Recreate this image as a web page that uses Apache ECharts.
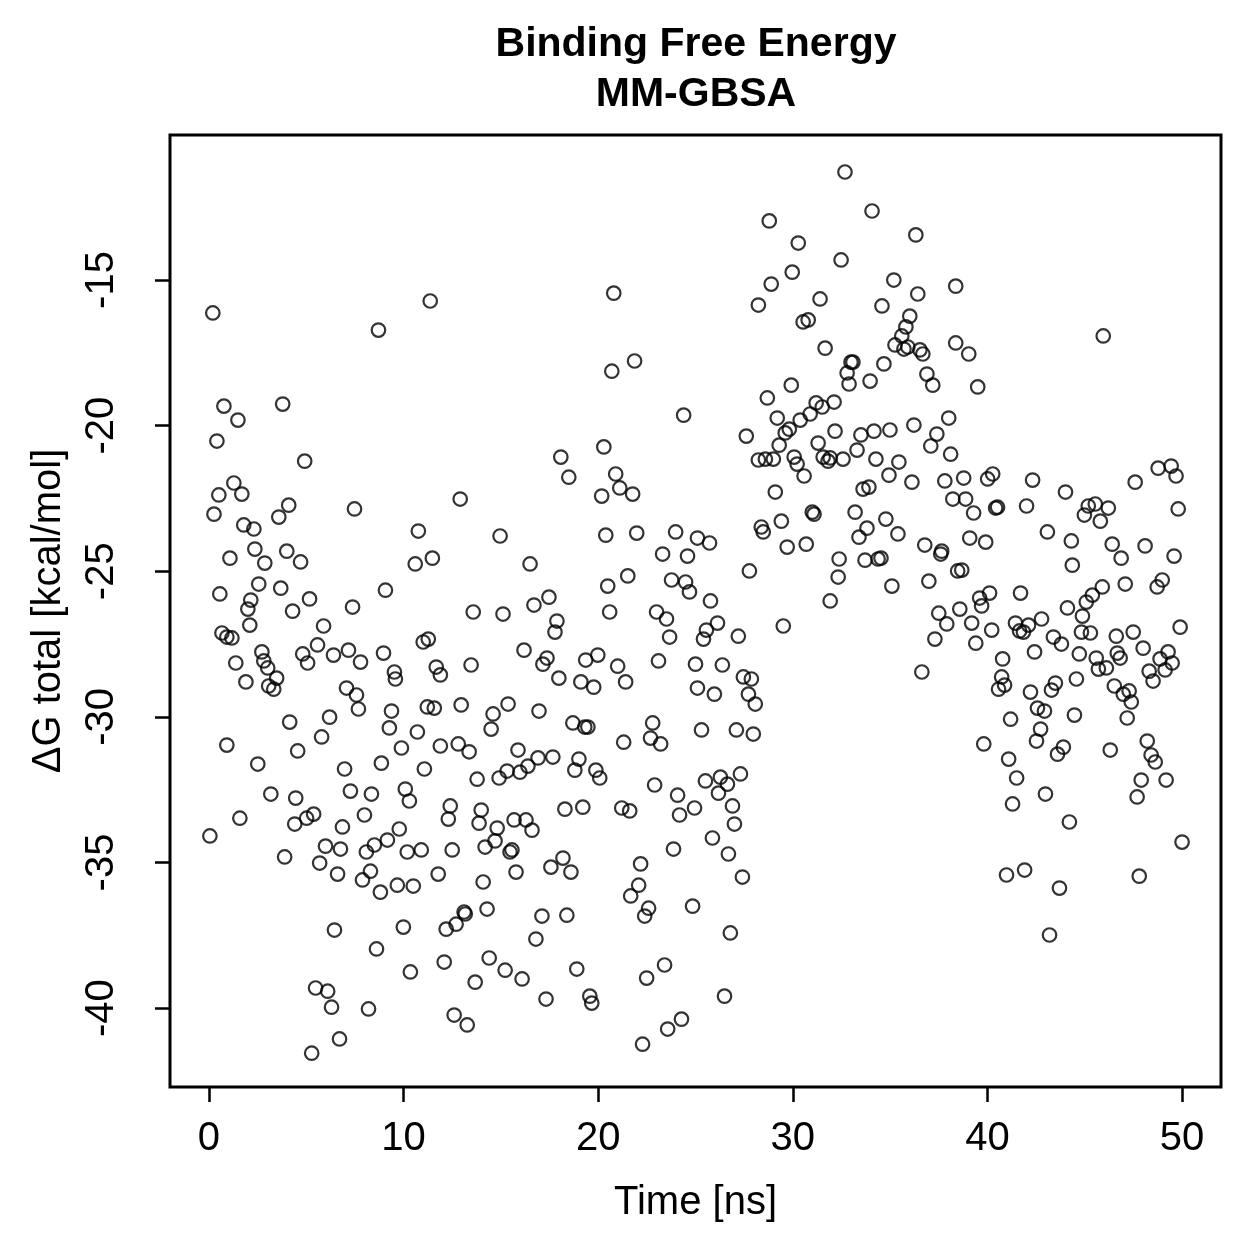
<!DOCTYPE html>
<html><head><meta charset="utf-8">
<script src="https://cdn.jsdelivr.net/npm/echarts@6/dist/echarts.min.js"></script>
<style>html,body{margin:0;padding:0;background:#fff}#c{width:1259px;height:1259px}</style>
</head><body><div id="c"></div>
<script>
const titleLines = ['Binding Free Energy', 'MM-GBSA'];
const xName = 'Time [ns]';
const yName = 'ΔG total [kcal/mol]';
const xTicks = [0, 10, 20, 30, 40, 50];
const yTicks = [-40, -35, -30, -25, -20, -15];

// [time (ns), ΔG total (kcal/mol)]
const ptsA = [[0.2,-16.13],[11.37,-15.72],[8.71,-16.72],[0.77,-19.33],[1.49,-19.81],[0.41,-20.53],[3.79,-19.26],[4.92,-21.22],
[1.28,-21.97],[1.69,-22.35],[0.51,-22.38],[0.26,-23.04],[4.10,-22.73],[3.59,-23.14],[7.48,-22.86],[1.79,-23.41],[2.31,-23.55],[10.76,-23.62],[2.36,-24.24],[2.87,-24.72],[1.08,-24.55],[4.0,-24.31],[4.71,-24.68],[10.60,-24.75],[11.48,-24.55],[2.56,-25.44],[3.69,-25.58],[0.56,-25.78],[9.07,-25.65],[2.15,-25.99],[2.0,-26.30],[5.17,-25.95],[4.30,-26.37],[7.38,-26.23],[2.10,-26.85],[5.89,-26.88],[0.67,-27.12],[0.92,-27.26],[1.18,-27.29],[2.72,-27.77],[2.82,-28.08],[3.02,-28.32],[1.38,-28.15],[4.82,-27.84],[5.07,-28.15],[5.58,-27.53],[6.40,-27.88],[7.17,-27.71],[7.79,-28.12],[8.97,-27.81],[9.53,-28.46],[9.58,-28.70],[11.01,-27.43],[11.27,-27.33],[11.68,-28.29],[11.89,-28.56],[1.90,-28.80],[3.48,-28.67],[3.07,-28.94],[3.33,-29.05],[7.07,-29.01],[7.58,-29.25],[7.68,-29.73],[9.38,-29.80],[11.22,-29.66],[11.58,-29.70],[4.15,-30.18],[6.20,-30.01],[9.27,-30.38],[10.71,-30.52],[5.79,-30.69],[0.92,-30.97],[4.56,-31.17],[9.89,-31.07],[11.89,-31.0],[2.51,-31.62],[6.97,-31.79],[8.86,-31.59],[11.07,-31.79]];
const ptsB = [[3.18,-32.65],[4.46,-32.79],[1.59,-33.48],[0.05,-34.09],[7.27,-32.55],[8.35,-32.65],[10.09,-32.48],[10.30,-32.89],[7.99,-33.37],[5.38,-33.34],[5.02,-33.48],[4.41,-33.68],[6.86,-33.78],[9.78,-33.85],[9.17,-34.23],[8.50,-34.40],[8.09,-34.64],[5.99,-34.44],[6.76,-34.54],[3.89,-34.81],[5.69,-35.02],[6.61,-35.40],[10.19,-34.64],[10.91,-34.57],[8.30,-35.30],[7.89,-35.60],[8.81,-36.02],[9.68,-35.78],[10.50,-35.81],[11.78,-35.40],[6.45,-37.32],[9.99,-37.22],[8.61,-37.97],[10.35,-38.76],[5.48,-39.31],[6.10,-39.42],[6.30,-39.97],[8.20,-40.03],[6.71,-41.06],[5.28,-41.55]];
const ptsC = [[20.80,-15.45],[20.70,-18.13],[21.87,-17.78],[24.39,-19.64],[20.29,-20.73],[18.08,-21.08],
[18.49,-21.77],[20.90,-21.66],[21.11,-22.14],[21.77,-22.35],[20.18,-22.42],[12.91,-22.52],[14.96,-23.79],[20.39,-23.76],[21.98,-23.69],[23.98,-23.65],[25.10,-23.86],[23.31,-24.41],[24.59,-24.48],[16.50,-24.75],[21.52,-25.16],[20.49,-25.51],[23.77,-25.30],[24.49,-25.37],[24.69,-25.71],[17.47,-25.89],[16.70,-26.16],[20.59,-26.40],[13.58,-26.40],[15.11,-26.47],[23.0,-26.40],[23.51,-26.64],[23.67,-27.26],[17.88,-26.71],[17.78,-27.09],[16.19,-27.71],[17.37,-27.98],[17.16,-28.19],[19.36,-28.05],[19.98,-27.88],[21.0,-28.26],[23.10,-28.08],[13.47,-28.22],[17.98,-28.67],[19.11,-28.80],[19.77,-28.98],[21.41,-28.80],[12.96,-29.59],[15.37,-29.56],[14.60,-29.90],[14.50,-30.42],[16.96,-29.80],[18.70,-30.21],[19.31,-30.35],[19.47,-30.35],[22.80,-30.21],[22.69,-30.73],[23.21,-30.93],[21.31,-30.87],[12.81,-30.93],[13.37,-31.20],[15.88,-31.14],[16.91,-31.41],[17.67,-31.38],[16.39,-31.69],[15.98,-31.90],[15.32,-31.86],[14.91,-32.10],[13.78,-32.14],[19.01,-31.45],[18.80,-31.83],[19.88,-31.83],[20.08,-32.10],[22.90,-32.34]];
const ptsD = [[24.08,-32.69],[24.18,-33.37],[12.40,-33.06],[12.30,-33.51],[13.99,-33.20],[13.88,-33.65],[14.81,-33.82],[14.70,-34.26],[14.19,-34.47],[15.68,-33.54],[16.29,-33.54],[16.60,-33.89],[18.29,-33.17],[19.21,-33.10],[21.21,-33.13],[21.62,-33.23],[12.50,-34.57],[15.47,-34.64],[15.57,-34.57],[14.09,-35.67],[15.78,-35.33],[18.19,-34.85],[17.57,-35.16],[18.60,-35.33],[23.87,-34.54],[22.18,-35.05],[22.08,-35.78],[21.67,-36.15],[22.59,-36.57],[22.39,-36.84],[13.11,-36.70],[13.17,-36.77],[14.29,-36.60],[12.70,-37.12],[12.19,-37.29],[17.11,-36.84],[18.39,-36.81],[16.80,-37.63],[12.09,-38.42],[14.40,-38.28],[15.22,-38.70],[16.09,-39.0],[13.68,-39.11],[18.90,-38.66],[17.32,-39.69],[19.57,-39.59],[19.67,-39.83],[22.49,-38.97],[23.41,-38.52],[12.60,-40.24],[13.27,-40.58],[24.28,-40.38],[23.57,-40.72],[22.28,-41.24]];
const ptsE = [[32.68,-11.29],[28.79,-12.97],[34.07,-12.63],[36.32,-13.45],[30.28,-13.73],[32.48,-14.31],[29.97,-14.73],[28.89,-15.14],[35.19,-15.0],[36.42,-15.48],[38.37,-15.21],[31.40,-15.65],[28.23,-15.86],[34.58,-15.89],[30.53,-16.44],[30.79,-16.37],[36.01,-16.24],[35.81,-16.61],[35.60,-16.92],[35.25,-17.23],[35.71,-17.37],[35.91,-17.30],[36.53,-17.40],[36.68,-17.54],[31.66,-17.34],[38.37,-17.16],[32.99,-17.82],[33.09,-17.82],[34.68,-17.88],[32.79,-18.19],[32.89,-18.57],[33.97,-18.47],[36.89,-18.23],[37.19,-18.61],[29.92,-18.61],[28.69,-19.05],[31.20,-19.22],[31.51,-19.36],[32.12,-19.19],[30.89,-19.60],[30.38,-19.81],[29.20,-19.74],[27.61,-20.36],[29.82,-20.12],[29.61,-20.25],[29.30,-20.67],[32.17,-20.19],[33.50,-20.32],[34.17,-20.19],[34.99,-20.15],[36.22,-19.98],[38.01,-19.74],[37.40,-20.29],[37.09,-20.70],[38.11,-20.98],[31.30,-20.60],[33.30,-20.84],
[45.95,-16.92],[39.04,-17.54],[39.50,-18.67]];
const ptsF = [[28.23,-21.18],[28.59,-21.15],[29.0,-21.15],[30.07,-21.08],[30.22,-21.32],[31.56,-21.08],[31.81,-21.22],[31.92,-21.11],[32.58,-21.15],[34.27,-21.15],[35.45,-21.25],[30.58,-21.73],[34.94,-21.70],[36.12,-21.94],[37.81,-21.90],[29.10,-22.28],[33.61,-22.18],[33.91,-22.11],[31.0,-22.97],[31.09,-23.04],[33.20,-22.97],[34.78,-23.21],[29.41,-23.28],[28.38,-23.48],[28.48,-23.65],[33.81,-23.52],[33.40,-23.83],[35.40,-23.72],[36.78,-24.10],[37.65,-24.31],[37.60,-24.41],[29.71,-24.17],[30.69,-24.07],[25.72,-24.03],[32.38,-24.58],[33.71,-24.62],[34.38,-24.58],[34.53,-24.55],[27.77,-24.99],[32.33,-25.20],[35.09,-25.51],[36.99,-25.34],[31.92,-26.02],[29.51,-26.88],[25.77,-26.02],[37.50,-26.44],[37.91,-26.81],[37.30,-27.33],[36.63,-28.46],[26.13,-26.78],[25.56,-27.02],[25.41,-27.33],[27.20,-27.23],[25.0,-28.19],[26.38,-28.22],[27.46,-28.63],[27.87,-28.70],[25.10,-29.01],[25.97,-29.22],[27.72,-29.22],[28.07,-29.56],[25.31,-30.45],[27.10,-30.45],[27.97,-30.59],[25.51,-32.20],[26.28,-32.07],[26.64,-32.31],[27.31,-31.96],
[26.18,-32.62],[26.90,-33.06],[24.95,-33.13],[27.0,-33.68],[25.87,-34.16],[26.69,-34.71],[27.41,-35.50],[24.85,-36.50],[26.79,-37.42],[26.49,-39.59]];
const ptsG = [[38.78,-21.80],[40.01,-21.83],[40.27,-21.66],[42.32,-21.87],[44.01,-22.28],[47.59,-21.94],[48.77,-21.46],[49.44,-21.39],[49.69,-21.73],[49.80,-22.86],[38.88,-22.52],[38.22,-22.52],[39.29,-23.0],[40.42,-22.83],[40.52,-22.80],[42.01,-22.76],[44.98,-23.07],[45.18,-22.76],[45.54,-22.69],[46.21,-22.83],[45.80,-23.28],[43.08,-23.65],[39.09,-23.86],[39.91,-24.0],[44.31,-23.96],[46.41,-24.07],[46.87,-24.55],[48.10,-24.13],[49.59,-24.48],[44.36,-24.79],[38.47,-24.99],[38.68,-24.96],[39.60,-25.92],[40.11,-25.75],[39.70,-26.19],[41.70,-25.75],[45.90,-25.54],[45.39,-25.82],[45.08,-26.06],[44.88,-26.54],[47.08,-25.44],[48.98,-25.30],[48.72,-25.54],[44.11,-26.26],[38.58,-26.30],[39.19,-26.78],[40.22,-27.02],[39.40,-27.47],[41.44,-26.78],[41.65,-27.05],[41.85,-27.09],[42.11,-26.85],[42.78,-26.64],[44.83,-27.09],[45.29,-27.12],[43.39,-27.26],[43.80,-27.50],[46.62,-27.23],[47.49,-27.09],[49.90,-26.92]];
const ptsH = [[42.42,-27.77],[44.72,-27.84],[45.59,-27.98],[45.70,-28.36],[46.11,-28.32],[46.67,-27.81],[46.82,-27.98],[48.0,-27.64],[49.28,-27.77],[48.87,-28.01],[49.49,-28.15],[49.13,-28.39],[48.31,-28.43],[48.51,-28.77],[40.78,-28.01],[40.73,-28.63],[40.88,-28.91],[40.57,-29.05],[42.21,-29.15],[43.49,-28.84],[43.29,-29.08],[44.57,-28.70],[46.52,-28.94],[47.28,-29.11],[46.98,-29.22],[47.39,-29.49],[42.57,-29.70],[42.93,-29.80],[41.19,-30.08],[44.47,-29.94],[47.18,-30.04],[42.73,-30.42],[42.52,-30.83],[39.81,-30.93],[41.09,-31.45],[43.90,-31.04],[43.60,-31.28],[46.31,-31.14],[48.21,-30.83],[48.41,-31.31],[48.62,-31.55],[41.50,-32.10],[47.90,-32.17],[49.18,-32.17],
[42.98,-32.65],[41.29,-32.99],[47.69,-32.75],[44.21,-33.61],[50.0,-34.30],[40.98,-35.43],[41.91,-35.26],[43.70,-35.88],[47.80,-35.47],[43.19,-37.49]];

const allPoints = [].concat(ptsA, ptsB, ptsC, ptsD, ptsE, ptsF, ptsG, ptsH);
const FONT = '"Liberation Sans", Arial, Helvetica, sans-serif';

const chart = echarts.init(document.getElementById('c'), null, {renderer: 'canvas'});
chart.setOption({
  backgroundColor: '#fff',
  animation: false,
  title: {
    text: titleLines.join('\n'),
    left: 696, top: 20, padding: 0,
    textAlign: 'center',
    textStyle: {fontFamily: FONT, fontWeight: 'bold', fontSize: 41, color: '#000', lineHeight: 50}
  },
  grid: {left: 170, top: 135, width: 1051, height: 952, show: true, borderColor: '#000', borderWidth: 3,
         backgroundColor: 'transparent', containLabel: false, outerBoundsMode: 'none'},
  xAxis: {
    type: 'value', min: -2, max: 52,
    name: xName, nameLocation: 'middle', nameGap: 96,
    nameTextStyle: {fontFamily: FONT, fontSize: 40, color: '#000'},
    axisLine: {show: false, onZero: false},
    axisTick: {show: true, inside: false, length: 15, customValues: xTicks, lineStyle: {color: '#000', width: 2.5}},
    axisLabel: {show: true, customValues: xTicks, margin: 32, fontFamily: FONT, fontSize: 40, color: '#000'},
    splitLine: {show: false}
  },
  yAxis: {
    type: 'value', min: -42.71, max: -10.02,
    name: yName, nameLocation: 'middle', nameGap: 101, nameRotate: 90,
    nameTextStyle: {fontFamily: FONT, fontSize: 40, color: '#000'},
    axisLine: {show: false, onZero: false},
    axisTick: {show: true, inside: false, length: 15, customValues: yTicks, lineStyle: {color: '#000', width: 2.5}},
    axisLabel: {show: true, customValues: yTicks, rotate: 90, margin: 48, fontFamily: FONT, fontSize: 40, color: '#000'},
    splitLine: {show: false}
  },
  series: [{
    type: 'scatter',
    data: allPoints,
    symbol: 'circle',
    symbolSize: 13.5,
    itemStyle: {color: 'rgba(0,0,0,0)', borderColor: '#000', borderWidth: 2.2},
    emphasis: {disabled: true}
  }]
});
</script>
</body></html>
